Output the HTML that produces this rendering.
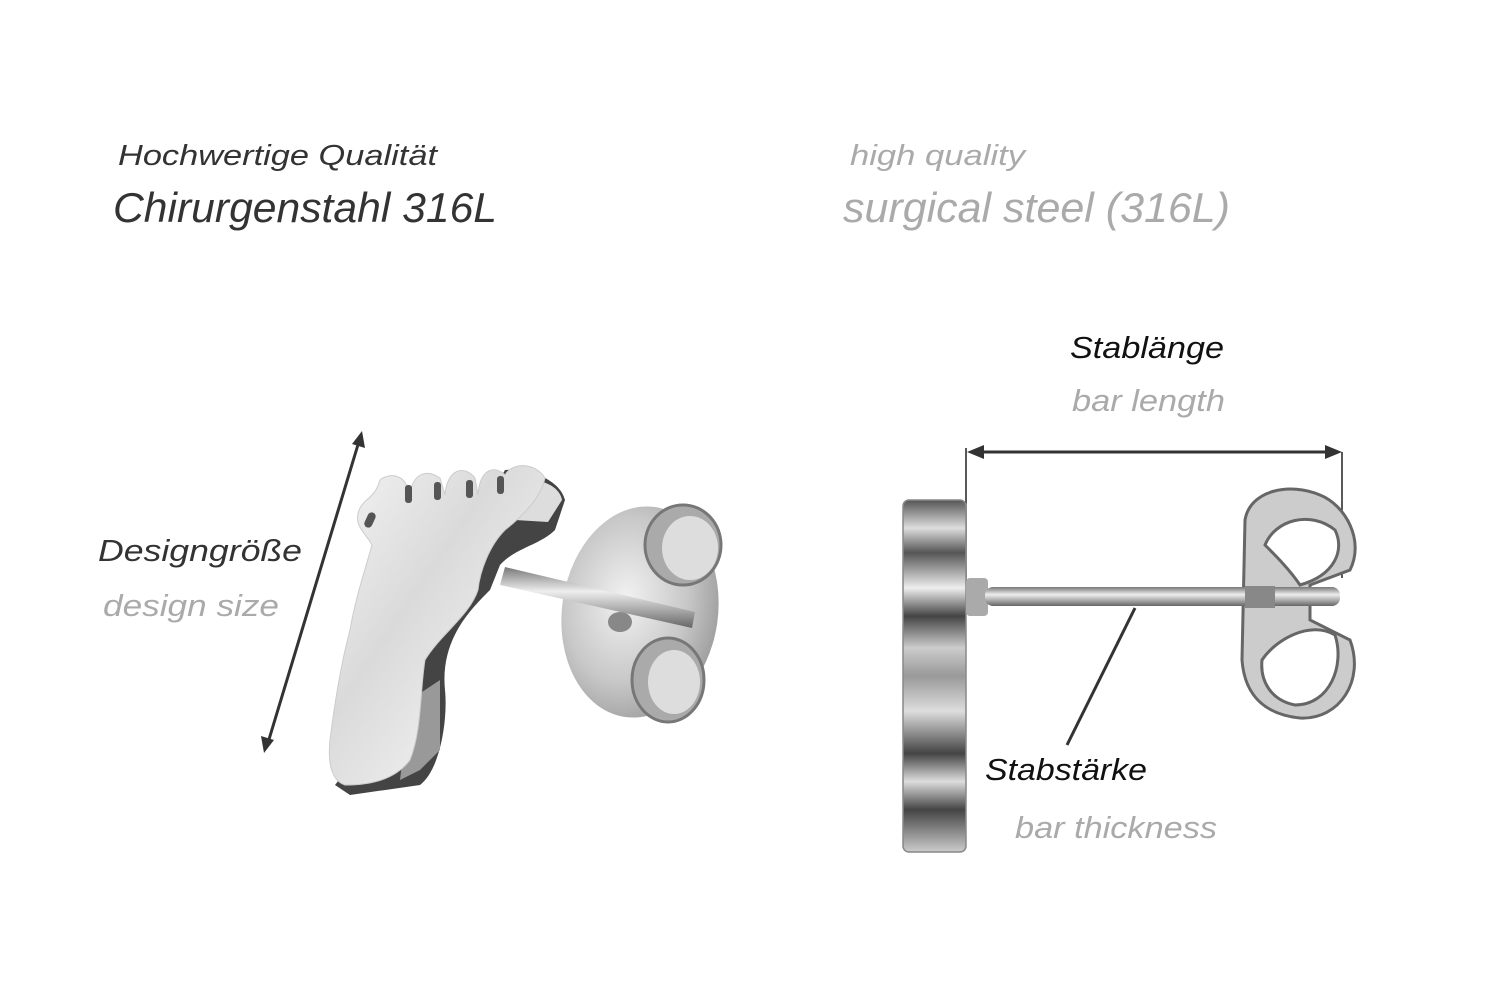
<!DOCTYPE html>
<html><head><meta charset="utf-8"><style>
html,body{margin:0;padding:0;background:#fff;width:1500px;height:1001px;overflow:hidden}
svg text{font-family:"Liberation Sans",sans-serif;font-style:italic}
</style></head><body>
<svg width="1500" height="1001" viewBox="0 0 1500 1001" xmlns="http://www.w3.org/2000/svg">
<defs>
<linearGradient id="steel" x1="0" y1="0" x2="1" y2="1">
<stop offset="0" stop-color="#f4f4f4"/><stop offset="0.4" stop-color="#dadada"/><stop offset="0.7" stop-color="#ececec"/><stop offset="1" stop-color="#c4c4c4"/></linearGradient>
<linearGradient id="edge" x1="0" y1="0" x2="0" y2="1">
<stop offset="0" stop-color="#555"/><stop offset="0.08" stop-color="#ddd"/><stop offset="0.15" stop-color="#555"/><stop offset="0.25" stop-color="#eee"/><stop offset="0.33" stop-color="#444"/><stop offset="0.42" stop-color="#ccc"/><stop offset="0.5" stop-color="#999"/><stop offset="0.6" stop-color="#ddd"/><stop offset="0.72" stop-color="#444"/><stop offset="0.8" stop-color="#ddd"/><stop offset="0.88" stop-color="#444"/><stop offset="1" stop-color="#ccc"/></linearGradient>
<linearGradient id="bar" x1="0" y1="0" x2="0" y2="1">
<stop offset="0" stop-color="#777"/><stop offset="0.4" stop-color="#eee"/><stop offset="1" stop-color="#666"/></linearGradient>
<radialGradient id="back" cx="0.4" cy="0.45" r="0.65"><stop offset="0" stop-color="#f2f2f2"/><stop offset="0.6" stop-color="#c8c8c8"/><stop offset="1" stop-color="#999"/></radialGradient>
</defs>

<text x="118" y="165" font-size="29" fill="#333" textLength="319" lengthAdjust="spacingAndGlyphs">Hochwertige Qualität</text>
<text x="113" y="222" font-size="42" fill="#333" textLength="384" lengthAdjust="spacingAndGlyphs">Chirurgenstahl 316L</text>
<text x="850" y="165" font-size="29" fill="#aaa" textLength="175" lengthAdjust="spacingAndGlyphs">high quality</text>
<text x="843" y="222" font-size="42" fill="#aaa" textLength="387" lengthAdjust="spacingAndGlyphs">surgical steel (316L)</text>
<text x="1070" y="358" font-size="31" fill="#111" textLength="154" lengthAdjust="spacingAndGlyphs">Stablänge</text>
<text x="1072" y="411" font-size="31" fill="#aaa" textLength="153" lengthAdjust="spacingAndGlyphs">bar length</text>
<text x="98" y="561" font-size="31" fill="#333" textLength="204" lengthAdjust="spacingAndGlyphs">Designgröße</text>
<text x="103" y="616" font-size="31" fill="#aaa" textLength="176" lengthAdjust="spacingAndGlyphs">design size</text>
<text x="985" y="780" font-size="31" fill="#111" textLength="162" lengthAdjust="spacingAndGlyphs">Stabstärke</text>
<text x="1015" y="838" font-size="31" fill="#aaa" textLength="202" lengthAdjust="spacingAndGlyphs">bar thickness</text>

<!-- left arrow -->
<line x1="360" y1="438" x2="267" y2="746" stroke="#333" stroke-width="3"/>
<polygon points="362,431 365,448 352,444" fill="#333"/>
<polygon points="264,753 261,736 274,740" fill="#333"/>

<!-- left butterfly back -->
<ellipse cx="640" cy="612" rx="78" ry="106" fill="url(#back)" transform="rotate(8 640 612)"/>
<ellipse cx="683" cy="545" rx="38" ry="40" fill="#aaa" stroke="#777" stroke-width="3"/>
<ellipse cx="690" cy="548" rx="28" ry="32" fill="#ddd"/>
<ellipse cx="668" cy="680" rx="36" ry="42" fill="#aaa" stroke="#777" stroke-width="3"/>
<ellipse cx="674" cy="682" rx="26" ry="32" fill="#ddd"/>
<ellipse cx="620" cy="622" rx="12" ry="10" fill="#888"/>
<!-- left bar -->
<polygon points="505,567 695,612 692,628 500,585" fill="url(#bar)"/>

<!-- foot edge (thickness) -->
<path d="M505,470 C530,468 560,480 565,500 L555,530 C540,545 515,548 500,565 L490,590 C470,610 440,640 445,690 C448,720 440,770 420,785 L350,795 L335,785 L400,700 L430,600 Z" fill="#444"/>
<path d="M520,480 C545,478 560,488 562,500 L548,522 L515,520 Z" fill="#ddd"/>
<path d="M440,680 L440,750 L420,770 L400,780 L410,700 Z" fill="#999"/>
<!-- foot face -->
<path d="M380,480 C390,472 405,475 408,490 L410,495 C412,475 425,468 440,478 L445,495 C447,468 465,465 475,478 L478,495 C480,468 495,465 505,475 C512,462 535,462 545,478 C540,500 520,518 505,530 C490,545 480,570 478,590 C470,615 440,635 425,660 C420,690 422,730 410,760 C395,780 370,785 345,785 C330,780 328,760 330,740 C335,700 342,660 350,630 C355,600 365,570 372,545 C365,532 352,525 360,508 C365,498 375,498 380,480 Z" fill="url(#steel)" stroke="#ccc" stroke-width="1"/>
<rect x="366" y="512" width="8" height="16" rx="4" fill="#555" transform="rotate(25 370 520)"/>
<rect x="405" y="485" width="7" height="18" rx="3" fill="#555"/>
<rect x="434" y="482" width="7" height="18" rx="3" fill="#555"/>
<rect x="466" y="480" width="7" height="18" rx="3" fill="#555"/>
<rect x="497" y="476" width="7" height="18" rx="3" fill="#555"/>

<!-- right arrow -->
<line x1="966" y1="448" x2="966" y2="580" stroke="#222" stroke-width="1.5"/>
<line x1="1342" y1="452" x2="1342" y2="578" stroke="#222" stroke-width="1.5"/>
<line x1="975" y1="452" x2="1333" y2="452" stroke="#333" stroke-width="3"/>
<polygon points="967,452 984,445 984,459" fill="#333"/>
<polygon points="1342,452 1325,445 1325,459" fill="#333"/>

<!-- right plate -->
<rect x="903" y="500" width="63" height="352" rx="6" fill="url(#edge)"/>
<rect x="903" y="500" width="63" height="352" rx="6" fill="none" stroke="#888" stroke-width="1.5"/>
<!-- right butterfly -->
<path d="M1245,520 C1250,490 1290,482 1320,495 C1345,505 1365,540 1350,570 L1310,585 L1310,620 L1350,640 C1365,680 1340,720 1300,718 C1270,715 1245,700 1242,660 Z" fill="#ccc" stroke="#666" stroke-width="3"/>
<path d="M1265,545 C1275,520 1310,510 1335,530 C1345,550 1335,575 1300,585 C1290,570 1275,555 1265,545 Z" fill="#fff" stroke="#666" stroke-width="3"/>
<path d="M1262,660 C1275,640 1310,620 1335,635 C1345,665 1330,705 1295,705 C1270,700 1260,680 1262,660 Z" fill="#fff" stroke="#666" stroke-width="3"/>
<!-- right bar -->
<rect x="966" y="578" width="22" height="38" rx="4" fill="#aaa"/>
<rect x="985" y="587" width="355" height="19" rx="8" fill="url(#bar)"/>
<rect x="1245" y="586" width="30" height="22" fill="#888"/>
<line x1="1135" y1="608" x2="1067" y2="745" stroke="#333" stroke-width="3"/>
</svg>
</body></html>
